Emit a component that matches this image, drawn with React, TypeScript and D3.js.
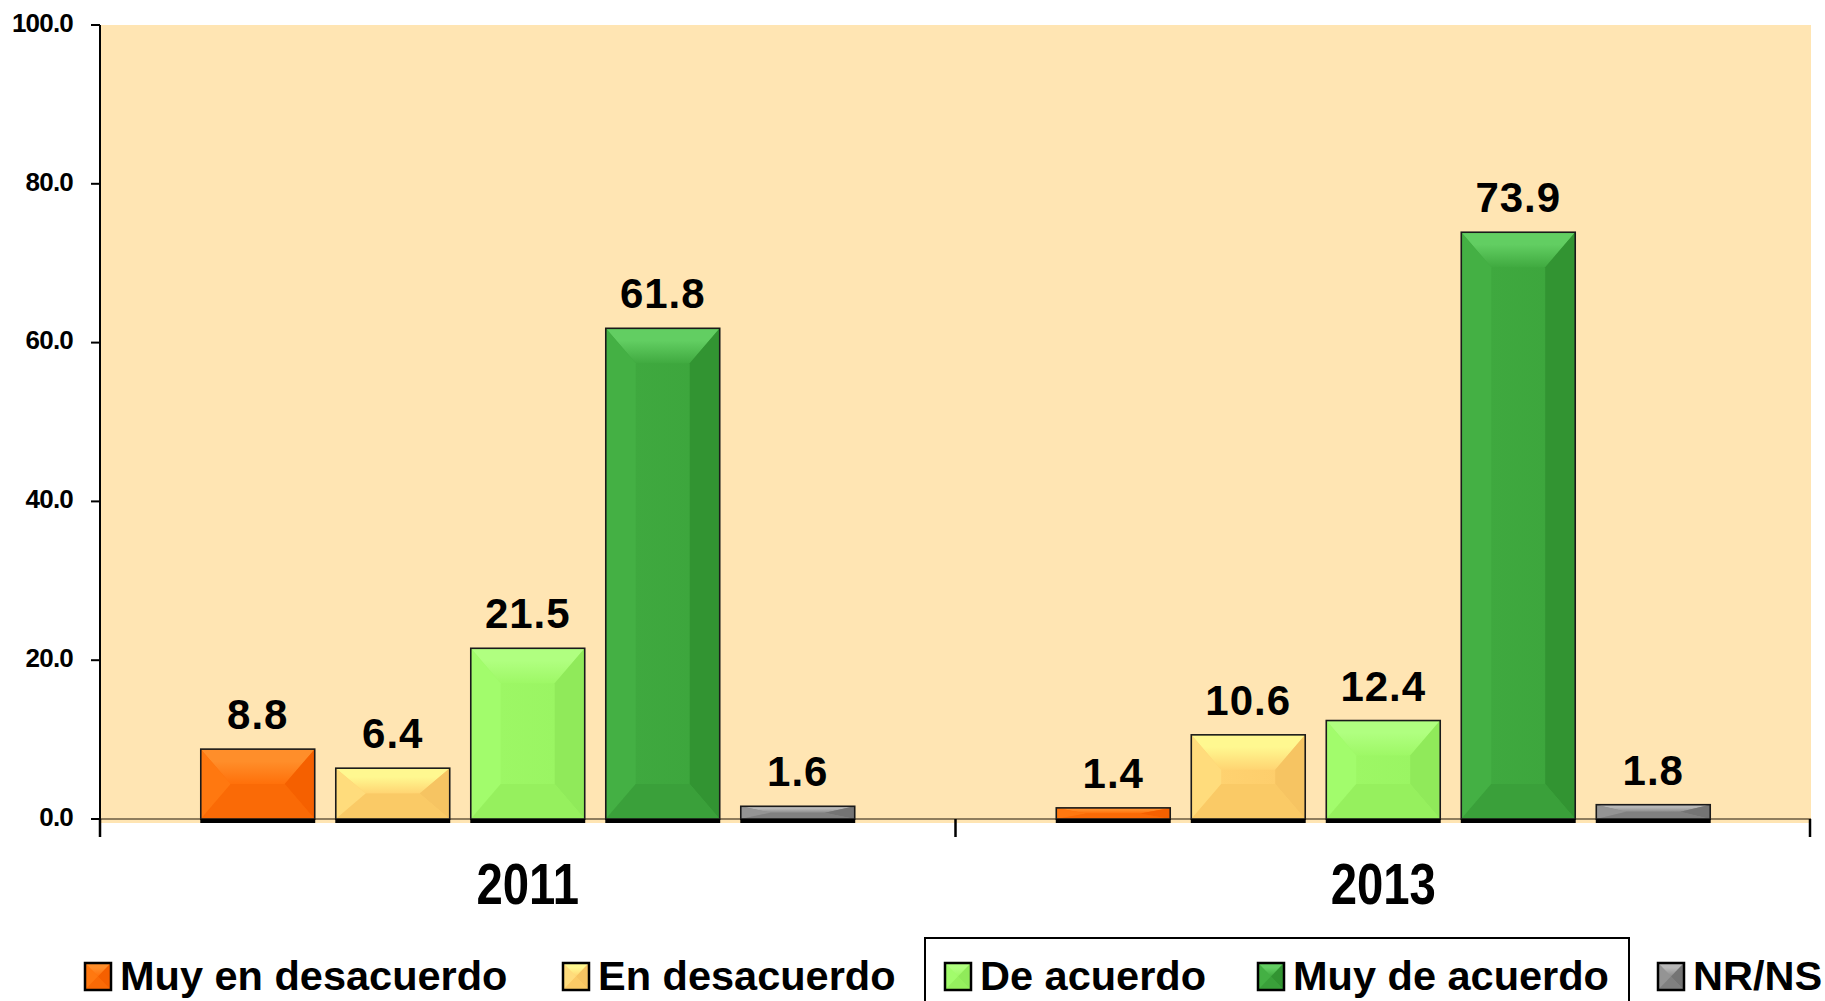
import React from "react";
import * as d3 from "d3";

const years = ["2011", "2013"];
const seriesNames = ["Muy en desacuerdo", "En desacuerdo", "De acuerdo", "Muy de acuerdo", "NR/NS"];
const values2011 = [8.8, 6.4, 21.5, 61.8, 1.6];
const values2013 = [1.4, 10.6, 12.4, 73.9, 1.8];
const yTicks = [0, 20, 40, 60, 80, 100];

const seriesColors = [
  { top: "#FF8E2A", left: "#FF7810", faceL: "#FF700A", faceR: "#FF6600", right: "#F56000", bottom: "#FA6A06" },
  { top: "#FFF890", left: "#FFDC7C", faceL: "#FFD472", faceR: "#FDCC6A", right: "#F6C462", bottom: "#FACA66" },
  { top: "#B0FF80", left: "#A2FC6C", faceL: "#9EF866", faceR: "#99F462", right: "#90EA5A", bottom: "#96F05E" },
  { top: "#62CE62", left: "#44B044", faceL: "#40AA40", faceR: "#3CA53C", right: "#329432", bottom: "#3AA03A" },
  { top: "#B8B8B8", left: "#949494", faceL: "#8C8C8C", faceR: "#868686", right: "#747474", bottom: "#808080" },
];

const W = 1825;
const H = 1001;
const plot = { left: 100, right: 1811, top: 25, bottom: 819 };

function Bevel({ x, y, w, h, c, id, maxD = 30 }: any) {
  const dx = Math.min(maxD, w / 2);
  const dy = Math.min(maxD + 5, h / 2);
  const p = (pts: number[][]) => pts.map((q) => q.join(",")).join(" ");
  return (
    <g>
      <rect x={x} y={y} width={w} height={h} fill={`url(#face${id})`} />
      <polygon points={p([[x, y], [x + w, y], [x + w - dx, y + dy], [x + dx, y + dy]])} fill={`url(#top${id})`} />
      <polygon points={p([[x, y], [x + dx, y + dy], [x + dx, y + h - dy], [x, y + h]])} fill={c.left} />
      <polygon points={p([[x + w, y], [x + w, y + h], [x + w - dx, y + h - dy], [x + w - dx, y + dy]])} fill={c.right} />
      <polygon points={p([[x, y + h], [x + dx, y + h - dy], [x + w - dx, y + h - dy], [x + w, y + h]])} fill={c.bottom} />
      <rect x={x} y={y} width={w} height={h} fill="none" stroke="#1a1a1a" strokeWidth={1.6} />
    </g>
  );
}

export default function App() {
  const x0 = d3.scaleBand<string>().domain(years).range([plot.left, plot.right]).padding(0);
  const x1 = d3
    .scaleBand<string>()
    .domain(seriesNames)
    .range([0, x0.bandwidth()])
    .paddingInner(0.156)
    .paddingOuter(0.7465);
  const y = d3.scaleLinear().domain([0, 100]).range([plot.bottom, plot.top]);
  const data = [values2011, values2013];

  const legendX = [85, 563, 945, 1258, 1658];

  return (
    <svg
      width={W}
      height={H}
      style={{ position: "absolute", left: 0, top: 0, background: "#fff" }}
      fontFamily="'Liberation Sans', Arial, sans-serif"
    >
      <defs>
        {seriesColors.map((c, i) => (
          <linearGradient key={i} id={`face${i}`} x1="0" x2="1" y1="0" y2="0">
            <stop offset="0" stopColor={c.faceL} />
            <stop offset="1" stopColor={c.faceR} />
          </linearGradient>
        ))}
        {seriesColors.map((c, i) => (
          <linearGradient key={"t" + i} id={`top${i}`} x1="0" x2="0" y1="0" y2="1">
            <stop offset="0" stopColor={c.top} />
            <stop offset="0.35" stopColor={c.top} />
            <stop offset="1" stopColor={c.faceL} />
          </linearGradient>
        ))}
      </defs>
      <rect x={0} y={0} width={W} height={H} fill="#fff" />
      <rect x={plot.left} y={plot.top} width={plot.right - plot.left} height={plot.bottom - plot.top + 4} fill="#FFE5B3" />

      <line x1={plot.left} x2={plot.right} y1={plot.bottom} y2={plot.bottom} stroke="#6a5a40" strokeWidth={1.5} />

      {years.map((yr, gi) => (
        <g key={yr}>
          {seriesNames.map((s, si) => {
            const v = data[gi][si];
            const bx = (x0(yr) as number) + (x1(s) as number);
            const bw = x1.bandwidth();
            const by = y(v);
            const bh = plot.bottom - by;
            return (
              <g key={s}>
                <Bevel x={bx} y={by} w={bw} h={bh} c={seriesColors[si]} id={si} />
                <line x1={bx - 0.5} x2={bx + bw + 0.5} y1={plot.bottom + 2} y2={plot.bottom + 2} stroke="#000" strokeWidth={4} />
                <text
                  x={bx + bw / 2}
                  y={by - 20}
                  textAnchor="middle"
                  fontSize={42}
                  fontWeight="bold"
                  letterSpacing={1}
                  fill="#000"
                >
                  {v.toFixed(1)}
                </text>
              </g>
            );
          })}
        </g>
      ))}

      <line x1={plot.left} x2={plot.left} y1={plot.top} y2={plot.bottom + 18} stroke="#000" strokeWidth={2} />
      {yTicks.map((t) => (
        <g key={t}>
          <line x1={plot.left - 9} x2={plot.left} y1={y(t)} y2={y(t)} stroke="#000" strokeWidth={2} />
          <text
            x={73}
            y={y(t)}
            textAnchor="end"
            dominantBaseline="middle"
            fontSize={26}
            fontWeight="bold"
            letterSpacing={-0.8}
            fill="#000"
          >
            {t.toFixed(1)}
          </text>
        </g>
      ))}

      {[...years.map((yr) => x0(yr) as number), plot.right - 1].map((tx, i) => (
        <line key={i} x1={tx} x2={tx} y1={plot.bottom} y2={plot.bottom + 18} stroke="#000" strokeWidth={2.5} />
      ))}

      {years.map((yr) => {
        const cx = (x0(yr) as number) + x0.bandwidth() / 2;
        return (
          <g key={yr} transform={`translate(${cx},904) scale(0.83,1)`}>
            <text x={0} y={0} textAnchor="middle" fontSize={57} fontWeight="bold" fill="#000">
              {yr}
            </text>
          </g>
        );
      })}

      <rect x={925} y={938} width={704} height={80} fill="none" stroke="#000" strokeWidth={2} />
      {seriesNames.map((s, i) => (
        <g key={s}>
          <Bevel x={legendX[i]} y={963} w={26} h={27} c={seriesColors[i]} id={i} maxD={13} />
          <rect x={legendX[i]} y={963} width={26} height={27} fill="none" stroke="#000" strokeWidth={2.5} />
          <text x={legendX[i] + 35} y={990} fontSize={41.5} fontWeight="bold" fill="#000">
            {s}
          </text>
        </g>
      ))}
    </svg>
  );
}
